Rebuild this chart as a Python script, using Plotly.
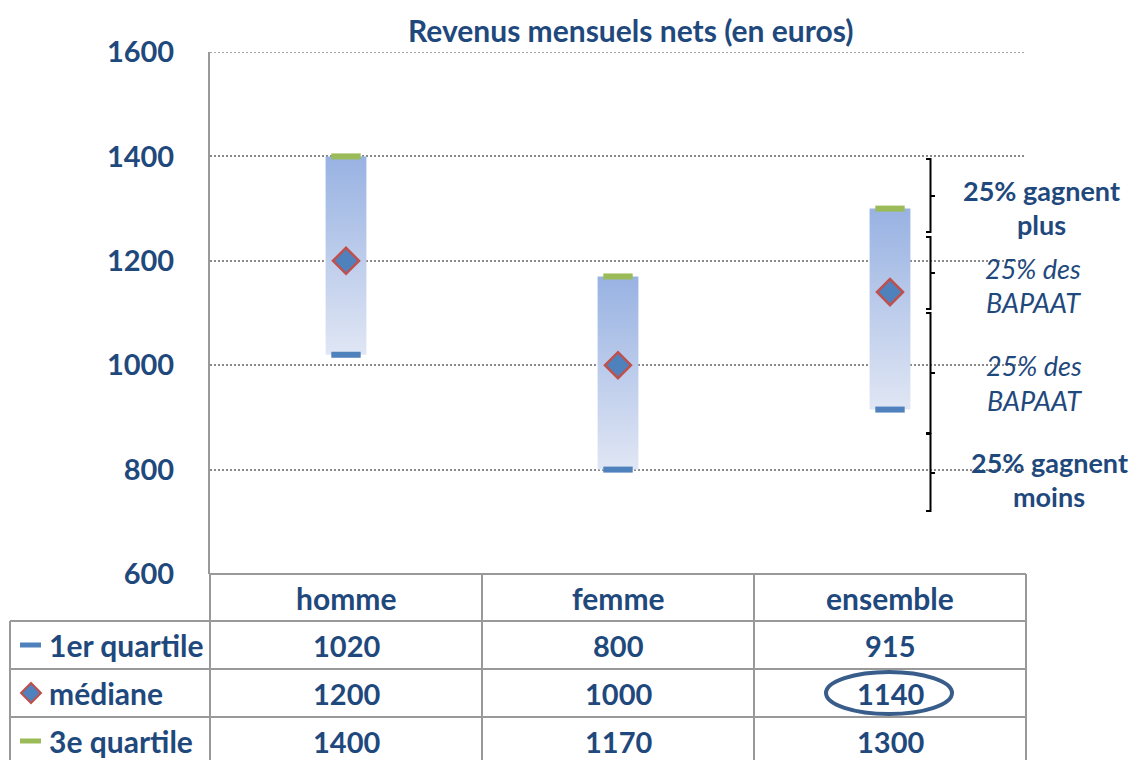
import plotly.graph_objects as go

categories = ["homme", "femme", "ensemble"]
q1 = [1020, 800, 915]
mediane = [1200, 1000, 1140]
q3 = [1400, 1170, 1300]
row_labels = ["1er quartile", "médiane", "3e quartile"]
y_ticks = [600, 800, 1000, 1200, 1400, 1600]
title = "Revenus mensuels nets (en euros)"

W, H = 1132, 760
L, R, T, B = 210, 1026, 52, 574
FONT = "Lato"
DARK = "#1f497d"
GRID = "#8a8a8a"
GRID_DASH = "2px,2px"


def px(x):
    return (x - L) / (R - L)


def py(y):
    return (B - y) / (B - T)


fig = go.Figure()
bw = 0.075
idx = list(range(len(categories)))

for i, (a, b) in enumerate(zip(q1, q3)):
    fig.add_trace(go.Scatter(
        x=[i - bw, i + bw, i + bw, i - bw, i - bw], y=[a, a, b, b, a],
        mode="lines", fill="toself", line=dict(width=0),
        fillgradient=dict(type="vertical", start=a, stop=b,
                          colorscale=[[0, "#e0e6f4"], [1, "#98b2e2"]]),
        showlegend=False, hoverinfo="skip"))

fig.add_trace(go.Scatter(x=idx, y=q1, mode="markers",
                         marker=dict(symbol="line-ew-open", size=21, color="#4f81bd",
                                     line=dict(color="#4f81bd", width=6)),
                         showlegend=False))
fig.add_trace(go.Scatter(x=idx, y=q3, mode="markers",
                         marker=dict(symbol="line-ew-open", size=21, color="#9bbb59",
                                     line=dict(color="#9bbb59", width=6)),
                         showlegend=False))
fig.add_trace(go.Scatter(x=idx, y=mediane, mode="markers",
                         marker=dict(symbol="diamond", size=20, color="#4f81bd",
                                     line=dict(color="#c0504d", width=2.5)),
                         showlegend=False))

shapes = []
# top gridline at 1600
shapes.append(dict(type="line", xref="paper", yref="y", x0=0, x1=1, y0=y_ticks[-1], y1=y_ticks[-1],
                   line=dict(color=GRID, width=1.5, dash=GRID_DASH), layer="below"))
tl = dict(color="#999999", width=2)
# table lines
shapes.append(dict(type="line", xref="paper", yref="paper", x0=px(210), x1=px(1026), y0=py(574), y1=py(574), line=tl))
for yy in [621, 669, 717]:
    shapes.append(dict(type="line", xref="paper", yref="paper", x0=px(10), x1=px(1026), y0=py(yy), y1=py(yy), line=tl))
shapes.append(dict(type="line", xref="paper", yref="paper", x0=px(10), x1=px(10), y0=py(621), y1=py(762), line=tl))
for xx in [210, 482, 754, 1026]:
    shapes.append(dict(type="line", xref="paper", yref="paper", x0=px(xx), x1=px(xx), y0=py(574), y1=py(762), line=tl))

# legend keys
shapes.append(dict(type="line", xref="paper", yref="paper", x0=px(20), x1=px(41), y0=py(645), y1=py(645), line=dict(color="#4f81bd", width=5)))
shapes.append(dict(type="line", xref="paper", yref="paper", x0=px(20), x1=px(41), y0=py(741), y1=py(741), line=dict(color="#9bbb59", width=5)))
cx, cy = 31, 693
shapes.append(dict(type="path", xref="paper", yref="paper",
                   path=f"M {px(cx-10)} {py(cy)} L {px(cx)} {py(cy-10)} L {px(cx+10)} {py(cy)} L {px(cx)} {py(cy+10)} Z",
                   fillcolor="#4f81bd", line=dict(color="#c0504d", width=2)))

# ellipse around 1140
shapes.append(dict(type="circle", xref="paper", yref="paper", x0=px(826), x1=px(952), y0=py(714), y1=py(672),
                   line=dict(color="#385d8a", width=4)))


# braces
def brace(top, bot, tip, xv=930.5, xl=926, xt=935):
    p = (f"M {px(xl)} {py(top)} L {px(xv)} {py(top)} L {px(xv)} {py(tip)} L {px(xt)} {py(tip)} "
         f"M {px(xv)} {py(tip)} L {px(xv)} {py(bot)} L {px(xl)} {py(bot)}")
    return dict(type="path", xref="paper", yref="paper", path=p, line=dict(color="black", width=2))


for t_, b_, m_ in [(159, 232, 196), (237, 309, 273), (313, 433, 373), (434, 511, 473)]:
    shapes.append(brace(t_, b_, m_))

ann = []


def text(t, x, y, size, xref="paper", xanchor="center", weight="bold", style="normal"):
    ann.append(dict(text=t, x=x, y=py(y), xref=xref, yref="paper", xanchor=xanchor, yanchor="middle",
                    showarrow=False,
                    font=dict(family=FONT, size=size, color=DARK, weight=weight, style=style)))


text(title, px(630), 30, 30)
for i, c in enumerate(categories):
    text(c, i, 598, 30, xref="x")
for r, (lab, vals) in enumerate(zip(row_labels, [q1, mediane, q3])):
    yy = 645 + 48 * r
    text(lab, px(47), yy, 30, xanchor="left")
    for i, v in enumerate(vals):
        text(str(v), i, yy, 29, xref="x")

side = [("25% gagnent", 1041, 190, "bold", "normal"), ("plus", 1041, 224, "bold", "normal"),
        ("25% des", 1033, 268, "normal", "italic"), ("BAPAAT", 1033, 302, "normal", "italic"),
        ("25% des", 1034, 365, "normal", "italic"), ("BAPAAT", 1034, 400, "normal", "italic"),
        ("25% gagnent", 1049, 462, "bold", "normal"), ("moins", 1049, 496, "bold", "normal")]
for t, xx, yy, wt, st in side:
    text(t, px(xx), yy, 27, weight=wt, style=st)

fig.update_layout(
    width=W, height=H, margin=dict(l=L, r=W - R, t=T, b=H - B),
    paper_bgcolor="white", plot_bgcolor="white",
    xaxis=dict(range=[-0.5, 2.5], showticklabels=False, showgrid=False, zeroline=False, showline=False),
    yaxis=dict(range=[600, 1600], tickvals=y_ticks, showgrid=True, gridcolor=GRID, griddash=GRID_DASH,
               gridwidth=1.5,
               zeroline=False, showline=True, linecolor="#999999", linewidth=2,
               ticklabelstandoff=28, tickfont=dict(family=FONT, size=29, color=DARK, weight="bold")),
    shapes=shapes, annotations=ann, showlegend=False,
)
fig.write_html("out.html", config={"displayModeBar": False},
               post_script="document.body.style.margin='0px';")
